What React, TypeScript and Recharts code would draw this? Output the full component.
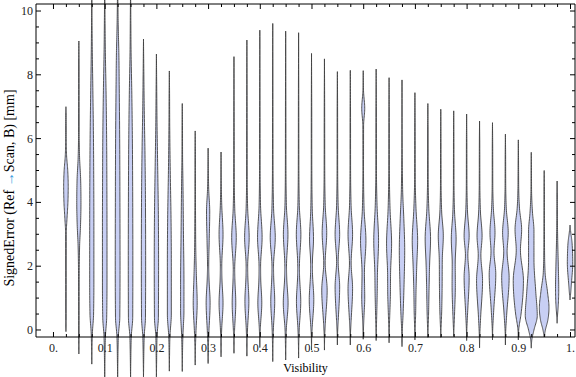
import React from 'react';
import { ComposedChart, Bar, XAxis, YAxis } from 'recharts';

// bin centres along the visibility axis
const visibility = [
  0.025, 0.05, 0.075, 0.1, 0.125, 0.15, 0.175, 0.2, 0.225, 0.25,
  0.275, 0.3, 0.325, 0.35, 0.375, 0.4, 0.425, 0.45, 0.475, 0.5,
  0.525, 0.55, 0.575, 0.6, 0.625, 0.65, 0.675, 0.7, 0.725, 0.75,
  0.775, 0.8, 0.825, 0.85, 0.875, 0.9, 0.925, 0.95, 0.975, 1.0,
];

// smallest / largest signed error per bin [mm]
const errorMin = [
  -0.05, -0.75, -1.07, -1.6, -1.6, -1.6, -1.5, -1.5, -1.29, -1.3,
  -1.1, -1.05, -0.84, -0.73, -0.82, -0.55, -0.99, -0.94, -0.88, -0.63,
  -0.63, -0.47, -0.47, -0.29, -0.33, -0.4, -0.52, -0.31, -0.23, -0.23,
  -0.2, -0.33, -0.56, -0.31, -0.47, -0.31, -0.57, -0.22, 0.21, 0.94,
];
const errorMax = [
  7.0, 9.06, 10.6, 10.7, 10.9, 10.7, 9.12, 8.65, 8.12, 7.1,
  6.24, 5.7, 5.58, 8.57, 9.09, 9.4, 9.61, 9.37, 9.32, 8.67,
  8.5, 8.1, 8.14, 8.13, 8.18, 7.91, 7.84, 7.44, 7.1, 6.92,
  6.87, 6.77, 6.55, 6.5, 6.14, 5.96, 5.57, 5.0, 4.67, 3.29,
];

// relative density (error value, density)
const densityProfiles: [number, number][][] = [
  [[0.3, 0.035], [3.0, 0.05], [3.5, 0.18], [4.0, 0.33], [4.5, 0.38], [5.0, 0.3], [5.5, 0.1], [6.0, 0.045], [6.8, 0.035]],
  [[-0.3, 0.035], [1.5, 0.05], [2.6, 0.12], [3.3, 0.28], [4.0, 0.35], [4.7, 0.3], [5.4, 0.12], [6.2, 0.05], [8.5, 0.035]],
  [[-0.6, 0.035], [-0.1, 0.1], [0.5, 0.3], [1.5, 0.35], [3.0, 0.35], [4.5, 0.33], [6.0, 0.28], [7.5, 0.18], [8.8, 0.08], [9.8, 0.035]],
  [[-1.0, 0.035], [-0.2, 0.12], [0.4, 0.33], [1.5, 0.38], [3.0, 0.38], [4.5, 0.36], [6.0, 0.32], [7.5, 0.22], [8.8, 0.1], [10.0, 0.04]],
  [[-1.0, 0.035], [-0.2, 0.12], [0.4, 0.36], [2.0, 0.4], [4.0, 0.38], [6.0, 0.34], [7.7, 0.26], [8.7, 0.2], [9.5, 0.1], [10.3, 0.04]],
  [[-1.0, 0.035], [-0.2, 0.12], [0.4, 0.36], [2.0, 0.38], [4.0, 0.36], [6.0, 0.3], [7.5, 0.2], [8.8, 0.08], [10.0, 0.035]],
  [[-1.0, 0.035], [-0.2, 0.12], [0.4, 0.33], [2.0, 0.36], [4.0, 0.33], [5.5, 0.25], [7.0, 0.12], [8.2, 0.05]],
  [[-1.0, 0.035], [-0.2, 0.1], [0.4, 0.33], [2.0, 0.36], [3.5, 0.33], [5.0, 0.22], [6.5, 0.1], [7.8, 0.04]],
  [[-0.8, 0.035], [-0.2, 0.1], [0.5, 0.33], [2.0, 0.33], [3.5, 0.28], [5.0, 0.15], [6.5, 0.06], [7.5, 0.035]],
  [[-0.8, 0.035], [-0.2, 0.1], [0.6, 0.28], [1.5, 0.28], [3.0, 0.2], [4.5, 0.12], [5.5, 0.05], [6.5, 0.035]],
  [[-0.6, 0.035], [-0.1, 0.12], [0.85, 0.33], [1.7, 0.2], [2.5, 0.1], [3.5, 0.06], [4.5, 0.04], [5.7, 0.035]],
  [[-0.6, 0.035], [-0.1, 0.12], [0.85, 0.33], [1.6, 0.15], [2.0, 0.1], [2.8, 0.18], [3.7, 0.27], [4.4, 0.1], [5.0, 0.04]],
  [[-0.4, 0.035], [0.0, 0.1], [0.85, 0.33], [1.6, 0.15], [2.0, 0.12], [3.0, 0.33], [3.9, 0.12], [4.5, 0.05]],
  [[-0.3, 0.035], [0.0, 0.1], [0.85, 0.3], [1.6, 0.15], [1.9, 0.12], [2.9, 0.38], [3.8, 0.13], [4.8, 0.05], [6.5, 0.035]],
  [[-0.4, 0.035], [0.0, 0.1], [0.9, 0.33], [1.7, 0.15], [2.0, 0.13], [2.9, 0.38], [3.8, 0.13], [4.8, 0.05], [7.0, 0.035]],
  [[-0.2, 0.035], [0.1, 0.1], [0.85, 0.33], [1.6, 0.15], [2.0, 0.13], [2.9, 0.38], [3.9, 0.12], [5.0, 0.05], [7.0, 0.035]],
  [[-0.5, 0.035], [0.0, 0.1], [0.9, 0.33], [1.7, 0.15], [2.0, 0.13], [2.9, 0.42], [3.8, 0.14], [5.0, 0.05], [7.0, 0.035]],
  [[-0.5, 0.035], [0.0, 0.1], [0.85, 0.4], [1.6, 0.18], [2.0, 0.14], [3.0, 0.38], [3.9, 0.12], [5.0, 0.05], [7.0, 0.035]],
  [[-0.4, 0.035], [0.0, 0.1], [0.9, 0.36], [1.7, 0.16], [2.0, 0.14], [3.0, 0.38], [3.9, 0.12], [5.0, 0.05], [7.0, 0.035]],
  [[-0.2, 0.035], [0.1, 0.12], [0.95, 0.38], [1.8, 0.16], [2.1, 0.15], [2.85, 0.33], [3.8, 0.12], [5.0, 0.05], [7.0, 0.035]],
  [[-0.2, 0.035], [0.2, 0.14], [1.25, 0.45], [2.1, 0.12], [3.05, 0.38], [3.9, 0.13], [5.0, 0.05], [7.0, 0.035]],
  [[-0.1, 0.035], [0.3, 0.14], [1.35, 0.38], [2.15, 0.13], [3.0, 0.38], [3.9, 0.13], [5.0, 0.05], [7.0, 0.035]],
  [[-0.1, 0.035], [0.3, 0.14], [1.3, 0.38], [2.1, 0.14], [3.0, 0.38], [3.9, 0.13], [5.0, 0.05], [7.0, 0.035]],
  [[0.0, 0.035], [0.4, 0.12], [1.0, 0.25], [1.8, 0.2], [2.8, 0.45], [3.8, 0.14], [5.0, 0.05], [6.4, 0.06], [6.95, 0.25], [7.5, 0.05]],
  [[0.0, 0.035], [0.5, 0.1], [1.2, 0.18], [1.8, 0.22], [2.8, 0.4], [3.9, 0.15], [5.0, 0.05], [7.0, 0.035]],
  [[0.0, 0.035], [0.5, 0.12], [1.1, 0.22], [1.8, 0.25], [2.7, 0.42], [3.8, 0.16], [5.0, 0.05], [7.0, 0.035]],
  [[-0.1, 0.035], [0.5, 0.18], [1.5, 0.35], [2.5, 0.45], [3.5, 0.3], [4.3, 0.12], [5.5, 0.04]],
  [[0.0, 0.035], [0.5, 0.12], [1.2, 0.18], [2.0, 0.3], [2.8, 0.45], [3.8, 0.18], [4.8, 0.05], [6.5, 0.035]],
  [[0.0, 0.035], [0.5, 0.12], [1.3, 0.2], [2.1, 0.3], [2.85, 0.45], [3.8, 0.16], [4.8, 0.05], [6.3, 0.035]],
  [[0.0, 0.035], [0.5, 0.14], [1.3, 0.22], [2.2, 0.25], [2.95, 0.42], [3.7, 0.15], [4.6, 0.05], [6.0, 0.035]],
  [[0.0, 0.035], [0.5, 0.14], [1.4, 0.27], [2.1, 0.25], [2.85, 0.4], [3.7, 0.14], [4.6, 0.05], [6.0, 0.035]],
  [[0.0, 0.035], [0.6, 0.18], [1.65, 0.42], [2.35, 0.2], [2.95, 0.42], [3.7, 0.15], [4.6, 0.05], [6.0, 0.035]],
  [[-0.2, 0.035], [0.4, 0.18], [1.55, 0.5], [2.35, 0.22], [2.95, 0.42], [3.7, 0.15], [4.6, 0.05], [5.8, 0.035]],
  [[0.0, 0.035], [0.6, 0.2], [1.75, 0.55], [2.45, 0.25], [3.05, 0.42], [3.8, 0.15], [4.6, 0.05], [5.8, 0.035]],
  [[-0.1, 0.035], [0.5, 0.22], [1.65, 0.62], [2.45, 0.28], [3.05, 0.47], [3.8, 0.15], [4.6, 0.05], [5.5, 0.035]],
  [[0.0, 0.06], [0.5, 0.45], [1.55, 0.85], [2.5, 0.35], [3.15, 0.55], [3.8, 0.2], [4.5, 0.06], [5.3, 0.035]],
  [[-0.3, 0.1], [0.0, 0.45], [0.45, 1.0], [1.2, 0.75], [2.2, 0.45], [3.1, 0.45], [3.7, 0.2], [4.4, 0.05], [5.0, 0.035]],
  [[0.0, 0.2], [0.3, 0.6], [0.7, 0.8], [1.2, 0.55], [1.8, 0.15], [2.5, 0.06], [3.5, 0.04], [4.5, 0.035]],
  [[0.4, 0.05], [0.8, 0.2], [1.3, 0.27], [2.0, 0.2], [2.8, 0.1], [3.5, 0.05], [4.3, 0.035]],
  [[1.1, 0.08], [1.5, 0.25], [2.1, 0.45], [2.7, 0.35], [3.1, 0.1]],
];

const xTicks = [
  0, 0.025, 0.05, 0.075, 0.1, 0.125, 0.15, 0.175, 0.2, 0.225, 0.25, 0.275, 0.3, 0.325,
  0.35, 0.375, 0.4, 0.425, 0.45, 0.475, 0.5, 0.525, 0.55, 0.575, 0.6, 0.625, 0.65, 0.675,
  0.7, 0.725, 0.75, 0.775, 0.8, 0.825, 0.85, 0.875, 0.9, 0.925, 0.95, 0.975, 1,
];
const yTicks = [0, 0.5, 1, 1.5, 2, 2.5, 3, 3.5, 4, 4.5, 5, 5.5, 6, 6.5, 7, 7.5, 8, 8.5, 9, 9.5, 10];

const FONT = '"Liberation Serif", "Times New Roman", serif';
const FILL = '#c8cff4';
const EDGE = '#414141';
const HALF_WIDTH_PX = 6;

const chartData = visibility.map((v, i) => ({
  v,
  range: [errorMin[i], errorMax[i]],
  profile: densityProfiles[i],
}));

// monotone cubic through the density nodes, so the outline never overshoots
function sampleProfile(nodes: number[][]) {
  const n = nodes.length;
  const ys = nodes.map(p => p[0]);
  const ws = nodes.map(p => p[1]);
  const h: number[] = [];
  const s: number[] = [];
  for (let i = 0; i < n - 1; i++) {
    h[i] = ys[i + 1] - ys[i];
    s[i] = (ws[i + 1] - ws[i]) / h[i];
  }
  const m = new Array(n).fill(0);
  m[0] = s[0];
  m[n - 1] = s[n - 2];
  for (let i = 1; i < n - 1; i++) {
    const p = (s[i - 1] * h[i] + s[i] * h[i - 1]) / (h[i - 1] + h[i]);
    m[i] = (Math.sign(s[i - 1]) + Math.sign(s[i])) *
      Math.min(Math.abs(s[i - 1]), Math.abs(s[i]), 0.5 * Math.abs(p)) || 0;
  }
  const out: number[][] = [];
  for (let i = 0; i < n - 1; i++) {
    const steps = 12;
    for (let k = 0; k < steps; k++) {
      const t = k / steps;
      const t2 = t * t, t3 = t2 * t;
      const w = (2 * t3 - 3 * t2 + 1) * ws[i] + (t3 - 2 * t2 + t) * h[i] * m[i] +
        (-2 * t3 + 3 * t2) * ws[i + 1] + (t3 - t2) * h[i] * m[i + 1];
      out.push([ys[i] + t * h[i], Math.max(0, w)]);
    }
  }
  out.push([ys[n - 1], ws[n - 1]]);
  return out;
}

const Violin = (props: any) => {
  const { x, y, width, height, payload } = props;
  if (!payload || height == null) return null;
  const cx = x + width / 2;
  const [lo, hi] = payload.range;
  const top = Math.min(y, y + height);
  const bottom = Math.max(y, y + height);
  const toPx = (v: number) => bottom - ((v - lo) / (hi - lo)) * (bottom - top);
  const pts = sampleProfile([[lo, 0], ...payload.profile, [hi, 0]]);
  const right = pts.map(([v, w]) => `${(cx + w * HALF_WIDTH_PX).toFixed(2)},${toPx(v).toFixed(2)}`);
  const left = pts.slice().reverse().map(([v, w]) => `${(cx - w * HALF_WIDTH_PX).toFixed(2)},${toPx(v).toFixed(2)}`);
  return (
    <path
      d={`M${right.join('L')}L${left.join('L')}Z`}
      fill={FILL}
      stroke={EDGE}
      strokeWidth={0.9}
      strokeLinejoin="round"
    />
  );
};

const isMajorX = (v: number) => Math.abs(v * 10 - Math.round(v * 10)) < 1e-6;
const isMajorY = (v: number) => Math.abs(v / 2 - Math.round(v / 2)) < 1e-6;
const fmtX = (v: number) => (v === 0 ? '0.' : v === 1 ? '1.' : v.toFixed(1));

const BottomTick = ({ x, y, payload }: any) => {
  const major = isMajorX(payload.value);
  return (
    <g>
      <line x1={x} x2={x} y1={y} y2={y - (major ? 5 : 3)} stroke="#000" />
      {major && (
        <text x={x} y={y + 15} textAnchor="middle" fontFamily={FONT} fontSize={12} fill="#222">
          {fmtX(payload.value)}
        </text>
      )}
    </g>
  );
};

const TopTick = ({ x, y, payload }: any) => (
  <line x1={x} x2={x} y1={y} y2={y + (isMajorX(payload.value) ? 5 : 3)} stroke="#000" />
);

const LeftTick = ({ x, y, payload }: any) => {
  const major = isMajorY(payload.value);
  return (
    <g>
      <line x1={x} x2={x + (major ? 5 : 3)} y1={y} y2={y} stroke="#000" />
      {major && (
        <text x={x - 3} y={y + 4} textAnchor="end" fontFamily={FONT} fontSize={12} fill="#222">
          {payload.value}
        </text>
      )}
    </g>
  );
};

const RightTick = ({ x, y, payload }: any) => (
  <line x1={x} x2={x - (isMajorY(payload.value) ? 5 : 3)} y1={y} y2={y} stroke="#000" />
);

const XLabel = () => (
  <text x={305.5} y={372} textAnchor="middle" fontFamily={FONT} fontSize={12} fill="#000">
    Visibility
  </text>
);

const YLabel = () => (
  <text
    x={14}
    y={188}
    transform="rotate(-90 14 188)"
    textAnchor="middle"
    fontFamily={FONT}
    fontSize={14}
    fill="#000"
  >
    SignedError (Ref <tspan fill="#3c9de0">→</tspan>Scan, B) [mm]
  </text>
);

const xDomain = [-0.0338, 1.0087];
const yDomain = [-0.22, 10.22];

export default function App() {
  return (
    <div style={{ position: 'absolute', left: 0, top: 0, width: 576, height: 377, background: '#fff' }}>
      <style>{'g[clip-path]{clip-path:none !important}'}</style>
      <ComposedChart
        width={576}
        height={377}
        data={chartData}
        margin={{ top: 3, right: 0, bottom: 0, left: 0 }}
      >
        <XAxis
          xAxisId="b"
          dataKey="v"
          type="number"
          domain={xDomain}
          allowDataOverflow
          ticks={xTicks}
          interval={0}
          height={40}
          tickSize={0}
          tickMargin={0}
          tickLine={false}
          axisLine={{ stroke: '#000' }}
          tick={BottomTick}
          label={{ content: XLabel }}
        />
        <XAxis
          xAxisId="t"
          orientation="top"
          dataKey="v"
          type="number"
          domain={xDomain}
          allowDataOverflow
          ticks={xTicks}
          interval={0}
          height={1}
          tickSize={0}
          tickMargin={0}
          tickLine={false}
          axisLine={{ stroke: '#000' }}
          tick={TopTick}
        />
        <YAxis
          yAxisId="l"
          type="number"
          domain={yDomain}
          allowDataOverflow
          ticks={yTicks}
          interval={0}
          width={36}
          tickSize={0}
          tickMargin={0}
          tickLine={false}
          axisLine={{ stroke: '#000' }}
          tick={LeftTick}
          label={{ content: YLabel }}
        />
        <YAxis
          yAxisId="r"
          orientation="right"
          type="number"
          domain={yDomain}
          allowDataOverflow
          ticks={yTicks}
          interval={0}
          width={1}
          tickSize={0}
          tickMargin={0}
          tickLine={false}
          axisLine={{ stroke: '#000' }}
          tick={RightTick}
        />
        <Bar
          xAxisId="b"
          yAxisId="l"
          dataKey="range"
          barSize={8}
          shape={<Violin />}
          isAnimationActive={false}
        />
      </ComposedChart>
    </div>
  );
}
